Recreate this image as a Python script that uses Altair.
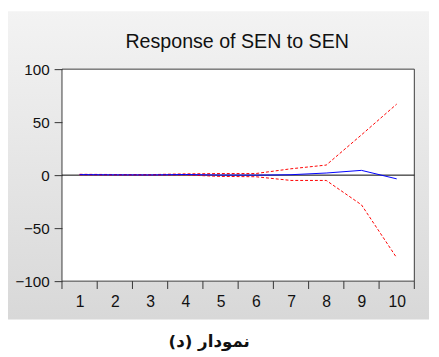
import altair as alt
import pandas as pd

periods = [1, 2, 3, 4, 5, 6, 7, 8, 9, 10]
response = [0.5, 0.3, 0.2, 0.6, 0.1, 0.0, 0.4, 2.0, 4.5, -3.5]
upper = [0.8, 0.6, 0.5, 1.2, 1.5, 1.5, 6.0, 9.5, 38.0, 67.0]
lower = [0.3, 0.1, 0.0, 0.2, -1.2, -1.5, -5.0, -5.0, -28.0, -78.0]
y_ticks = [-100, -50, 0, 50, 100]
boundaries = [0.5 + i for i in range(11)]
title_text = ["Response of SEN to SEN"]
caption_text = ["نمودار (د)"]

W, H = 359, 216

df = pd.DataFrame({"period": periods, "response": response, "upper": upper, "lower": lower})
bands = df.melt(id_vars="period", value_vars=["upper", "lower"], var_name="band", value_name="value")

xscale = alt.Scale(domain=[0.5, 10.5], nice=False, zero=False)
yscale = alt.Scale(domain=[-100, 100], nice=False)

xaxis = alt.Axis(values=periods, ticks=False, domain=False, grid=False, labelPadding=13,
                 labelFontSize=16, labelFont="Liberation Sans", labelColor="#111",
                 labelOverlap=False, labelFlush=False, title=None, zindex=1)
yaxis = alt.Axis(values=y_ticks, tickSize=8, tickColor="#333", domain=False, grid=False,
                 labelPadding=5, labelFontSize=15.5, labelFont="Liberation Sans",
                 labelColor="#111", labelOverlap=False, labelFlush=False, title=None, zindex=1)

panel = alt.Chart(pd.DataFrame({"a": [0]})).mark_rect(
    fill=alt.Gradient(
        gradient="linear", x1=0, y1=0, x2=0, y2=1,
        stops=[alt.GradientStop(color="#f3f3f3", offset=0),
               alt.GradientStop(color="#d8d8d8", offset=1)],
    )
).encode(x=alt.value(-55), x2=alt.value(374), y=alt.value(-59), y2=alt.value(255))

plotbg = alt.Chart(pd.DataFrame({"a": [0]})).mark_rect(
    fill="white", stroke="#3a3a3a", strokeWidth=1
).encode(x=alt.value(0), x2=alt.value(W), y=alt.value(0), y2=alt.value(H))

zero = alt.Chart(pd.DataFrame({"z": [0]})).mark_rule(color="black", strokeWidth=1).encode(
    y=alt.Y("z:Q", scale=yscale, axis=yaxis), x=alt.value(0), x2=alt.value(W)
)

band_lines = alt.Chart(bands).mark_line(color="#ff0000", strokeWidth=1, strokeDash=[3, 2]).encode(
    x=alt.X("period:Q", scale=xscale, axis=xaxis),
    y=alt.Y("value:Q", scale=yscale, axis=yaxis),
    detail="band:N",
)

resp_line = alt.Chart(df).mark_line(color="#0000ff", strokeWidth=1).encode(
    x=alt.X("period:Q", scale=xscale, axis=xaxis),
    y=alt.Y("response:Q", scale=yscale, axis=yaxis),
)

xticks = alt.Chart(pd.DataFrame({"b": boundaries})).mark_rule(color="#333", strokeWidth=1).encode(
    x=alt.X("b:Q", scale=xscale, axis=xaxis), y=alt.value(H), y2=alt.value(H + 8)
)

title = alt.Chart(pd.DataFrame({"t": title_text})).mark_text(
    font="Liberation Sans", fontSize=20, color="#111", align="center", baseline="alphabetic"
).encode(text="t:N", x=alt.value(W / 2 - 1), y=alt.value(-22))

caption = alt.Chart(pd.DataFrame({"t": caption_text})).mark_text(
    font="DejaVu Sans", fontSize=17, fontWeight="bold", color="#111", align="center", baseline="middle"
).encode(text="t:N", x=alt.value(150), y=alt.value(278))

chart = alt.layer(panel, plotbg, zero, band_lines, resp_line, xticks, title, caption).properties(
    width=W, height=H,
    padding={"left": 55, "top": 59, "right": 17, "bottom": 74},
    autosize=alt.AutoSizeParams(type="none"),
    background="white",
).configure_view(stroke=None)

chart.save("out.html", embed_options={"renderer": "svg", "actions": False})
